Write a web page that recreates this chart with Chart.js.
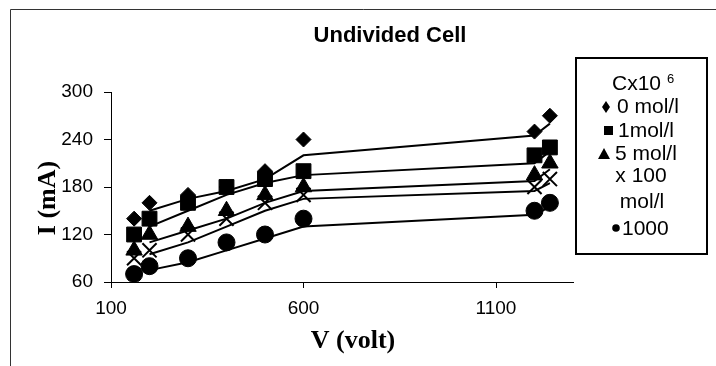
<!DOCTYPE html>
<html><head><meta charset="utf-8">
<script src="https://cdn.jsdelivr.net/npm/chart.js@4/dist/chart.umd.min.js"></script>
<style>html,body{margin:0;padding:0;background:#fff;} canvas{display:block;}</style>
</head><body>
<canvas id="c" width="716" height="366"></canvas>
<script>
// ---- data ----
const voltage     = [160, 200, 300, 400, 500, 600, 1200, 1240];
const current0    = [140, 160, 170, 180, 200, 240, 250, 270];
const current1    = [120, 140, 160, 180, 190, 200, 220, 230];
const current5    = [100, 120, 130, 150, 170, 180, 195, 210];
const current100  = [ 90, 100, 120, 140, 160, 170, 180, 190];
const current1000 = [ 70,  80,  90, 110, 120, 140, 150, 160];
const seriesNames = ['0 mol/l', '1mol/l', '5 mol/l', '100 mol/l', '1000 mol/l'];
const xTicks = [100, 600, 1100];
const yTicks = [60, 120, 180, 240, 300];
const titleText = 'Undivided Cell';
const xTitle = 'V (volt)';
const yTitle = 'I (mA)';

const seriesValues = [current0, current1, current5, current100, current1000];
const markerStyles = [
  {pointStyle: 'rectRot', radius: 7.5},
  {pointStyle: 'rect', radius: 10.5},
  {pointStyle: 'triangle', radius: 9.5},
  {pointStyle: 'crossRot', radius: 10},
  {pointStyle: 'circle', radius: 8.5}
];

// 2-period moving average trendline (as in the original spreadsheet chart)
function movingAverage(xs, ys) {
  const out = [];
  for (let i = 1; i < xs.length; i++) out.push({x: xs[i], y: (ys[i - 1] + ys[i]) / 2});
  return out;
}

const datasets = [];
seriesValues.forEach((ys, k) => {
  datasets.push({
    label: seriesNames[k],
    data: voltage.map((x, i) => ({x: x, y: ys[i]})),
    showLine: false,
    pointStyle: markerStyles[k].pointStyle,
    pointRadius: markerStyles[k].radius,
    pointHoverRadius: markerStyles[k].radius,
    pointBackgroundColor: '#000',
    pointBorderColor: '#000',
    pointBorderWidth: markerStyles[k].pointStyle === 'crossRot' ? 2 : 1,
    clip: false
  });
  datasets.push({
    label: seriesNames[k] + ' trend',
    data: movingAverage(voltage, ys),
    showLine: true,
    borderColor: '#000',
    borderWidth: 2,
    pointRadius: 0,
    fill: false,
    tension: 0,
    clip: false
  });
});

const SANS = '"Liberation Sans", Arial, sans-serif';
const SERIF = '"Liberation Serif", "Times New Roman", serif';

const decorPlugin = {
  id: 'decor',
  afterDraw(chart) {
    const ctx = chart.ctx;
    ctx.save();
    // outer frame
    ctx.strokeStyle = '#333';
    ctx.lineWidth = 1;
    ctx.beginPath();
    ctx.moveTo(10.5, 366);
    ctx.lineTo(10.5, 9.5);
    ctx.lineTo(716, 9.5);
    ctx.stroke();

    // title
    ctx.fillStyle = '#000';
    ctx.font = 'bold 22px ' + SANS;
    ctx.textAlign = 'center';
    ctx.textBaseline = 'middle';
    ctx.fillText(titleText, 390, 36);

    // axis titles
    ctx.font = 'bold 26px ' + SERIF;
    ctx.fillText(xTitle, 353, 341);
    ctx.save();
    ctx.translate(48, 198);
    ctx.rotate(-Math.PI / 2);
    ctx.fillText(yTitle, 0, 0);
    ctx.restore();

    // legend box
    ctx.lineWidth = 2;
    ctx.strokeStyle = '#000';
    ctx.strokeRect(576, 58, 131, 196);

    ctx.font = '21px ' + SANS;
    ctx.textAlign = 'left';
    // line 1: Cx10^6
    ctx.fillText('Cx10', 612, 84);
    ctx.font = '13px ' + SANS;
    ctx.fillText('6', 667, 79);
    ctx.font = '21px ' + SANS;
    // diamond + 0 mol/l
    ctx.beginPath();
    ctx.moveTo(606, 101); ctx.lineTo(610, 107); ctx.lineTo(606, 113); ctx.lineTo(602, 107); ctx.closePath(); ctx.fill();
    ctx.fillText(seriesNames[0], 617, 107);
    // square + 1mol/l
    ctx.fillRect(604, 126, 9, 9);
    ctx.fillText(seriesNames[1], 618, 131);
    // triangle + 5 mol/l
    ctx.beginPath();
    ctx.moveTo(604, 148); ctx.lineTo(610, 159); ctx.lineTo(598, 159); ctx.closePath(); ctx.fill();
    ctx.fillText(seriesNames[2], 615, 154);
    // x 100 / mol/l
    ctx.textAlign = 'center';
    ctx.fillText('x 100', 641, 176);
    ctx.fillText('mol/l', 642, 202);
    // bullet + 1000
    ctx.beginPath();
    ctx.arc(616, 228, 3.8, 0, Math.PI * 2); ctx.fill();
    ctx.textAlign = 'left';
    ctx.fillText('1000', 622, 229);
    ctx.restore();
  }
};

new Chart(document.getElementById('c'), {
  type: 'scatter',
  data: {datasets: datasets},
  options: {
    responsive: false,
    devicePixelRatio: 1,
    animation: false,
    events: [],
    layout: {padding: {left: 0, right: 143, top: 92, bottom: 44}},
    plugins: {legend: {display: false}, title: {display: false}, tooltip: {enabled: false}},
    scales: {
      x: {
        type: 'linear', min: 100, max: 1300,
        afterBuildTicks: s => { s.ticks = xTicks.map(v => ({value: v})); },
        afterFit: s => { s.height = 40; },
        grid: {drawOnChartArea: false, tickLength: 6, color: '#000', lineWidth: 1},
        border: {color: '#000', width: 1},
        ticks: {font: {family: SANS, size: 19}, color: '#000', padding: 9, maxRotation: 0,
                callback: v => String(v)}
      },
      y: {
        type: 'linear', min: 60, max: 300,
        afterBuildTicks: s => { s.ticks = yTicks.map(v => ({value: v})); },
        afterFit: s => { s.width = 111; },
        grid: {drawOnChartArea: false, tickLength: 7, color: '#000', lineWidth: 1},
        border: {color: '#000', width: 1},
        ticks: {font: {family: SANS, size: 19}, color: '#000', padding: 11,
                callback: v => String(v)}
      }
    }
  },
  plugins: [decorPlugin]
});
</script>
</body></html>
